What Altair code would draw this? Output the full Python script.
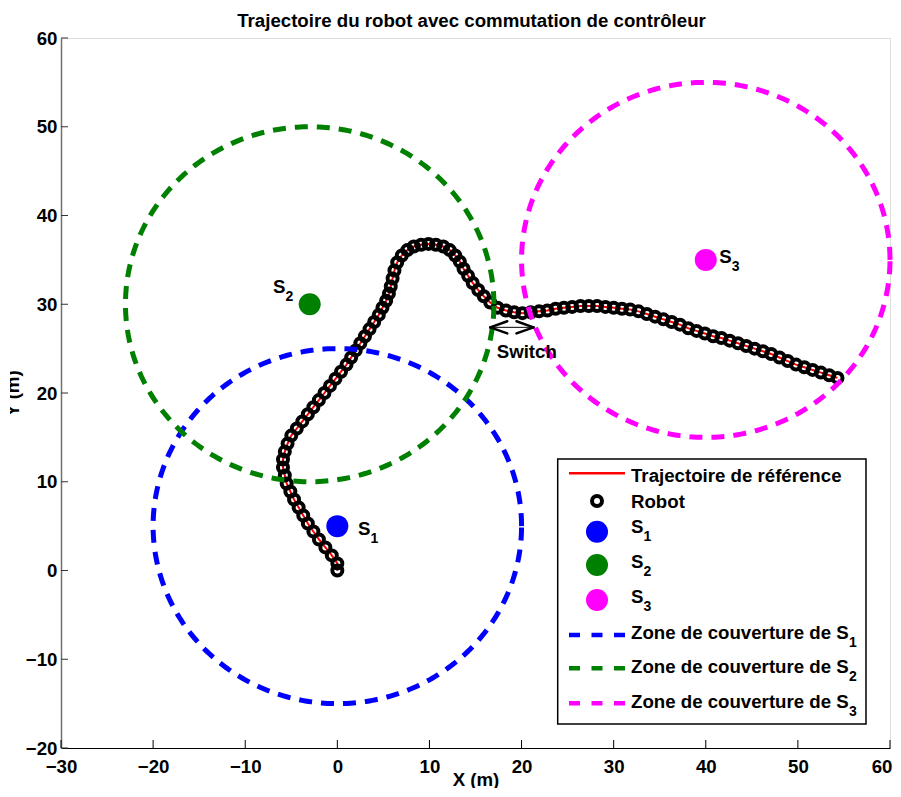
import altair as alt
import numpy as np
import pandas as pd

# ---------------- data ----------------
traj_x = [0.0, 0.0, -0.6, -1.3, -2.0, -2.6, -3.2, -3.7, -4.2, -4.7, -5.1, -5.5, -5.7, -5.9, -5.9, -5.7,
          -5.4, -5.0, -4.4, -3.8, -3.2, -2.6, -2.0, -1.4, -0.8, -0.2, 0.4, 1.0, 1.5, 2.0, 2.5, 3.0,
          3.5, 4.0, 4.5, 4.9, 5.3, 5.6, 5.8, 6.0, 6.2, 6.5, 7.0, 7.6, 8.3, 9.1, 9.9, 10.7, 11.5, 12.2,
          12.8, 13.3, 13.7, 14.2, 14.7, 15.3, 15.9, 16.6, 17.4, 18.3, 19.2, 20.1, 21.0, 21.9, 22.8,
          23.7, 24.6, 25.5, 26.4, 27.3, 28.2, 29.1, 30.0, 30.9, 31.8, 32.7, 33.6, 34.5, 35.4, 36.3,
          37.2, 38.1, 39.0, 39.9, 40.8, 41.7, 42.6, 43.5, 44.4, 45.3, 46.2, 47.1, 48.0, 48.9, 49.8,
          50.7, 51.6, 52.5, 53.4, 54.3]
traj_y = [0.0, 0.8, 1.7, 2.6, 3.5, 4.4, 5.3, 6.2, 7.1, 8.0, 8.9, 9.8, 10.7, 11.6, 12.5, 13.4,
          14.3, 15.2, 16.0, 16.8, 17.6, 18.4, 19.2, 20.0, 20.8, 21.6, 22.4, 23.2, 24.0, 24.8, 25.6, 26.4,
          27.2, 28.0, 28.8, 29.6, 30.4, 31.2, 32.0, 32.9, 33.8, 34.7, 35.5, 36.1, 36.5, 36.7, 36.8, 36.7,
          36.5, 36.1, 35.5, 34.8, 34.0, 33.2, 32.4, 31.6, 30.9, 30.2, 29.6, 29.3, 29.1, 29.0, 29.1,
          29.2, 29.3, 29.5, 29.6, 29.7, 29.8, 29.8, 29.8, 29.7, 29.6, 29.5, 29.4, 29.2, 28.9, 28.6,
          28.3, 28.0, 27.7, 27.3, 27.0, 26.7, 26.4, 26.2, 25.9, 25.6, 25.3, 25.0, 24.7, 24.4, 24.0,
          23.6, 23.2, 22.9, 22.6, 22.3, 22.0, 21.7]

sensor_names = ["S1", "S2", "S3"]
sensor_subs = ["1", "2", "3"]
sensor_x = [0.0, -3.0, 40.0]
sensor_y = [5.0, 30.0, 35.0]
sensor_colors = ["#0000FF", "#008000", "#FF00FF"]
coverage_radius = [20.0, 20.0, 20.0]

label_x = [2.25, -6.98, 41.45]
label_y = [4.0, 31.3, 34.65]

switch_label = "Switch"
switch_x = [17.3]
switch_y = [23.9]
arrow_x = [16.6, 21.3]
arrow_y = [27.4, 27.4]
arrow_head_x = [18.45, 19.45]
arrow_head_dy = [0.68, -0.68]

x_ticks = [-30, -20, -10, 0, 10, 20, 30, 40, 50, 60]
y_ticks = [-20, -10, 0, 10, 20, 30, 40, 50, 60]

title_text = "Trajectoire du robot avec commutation de contrôleur"
legend_texts = ["Trajectoire de référence", "Robot", "S", "S", "S",
                "Zone de couverture de S", "Zone de couverture de S", "Zone de couverture de S"]

# ---------------- tables ----------------
FONT = "Liberation Sans"
FS = 18.67
ROBOT_SIZE = 100
ROBOT_SW = 4
DOT_SIZE = 484

traj_df = pd.DataFrame({"x": traj_x, "y": traj_y, "i": range(len(traj_x))})
sens_df = pd.DataFrame({"x": sensor_x, "y": sensor_y, "name": sensor_names})
rows = []
theta = np.linspace(0, 2 * np.pi, 361)
for n, cx, cy, r in zip(sensor_names, sensor_x, sensor_y, coverage_radius):
    for k, t in enumerate(theta):
        rows.append({"x": cx + r * np.cos(t), "y": cy + r * np.sin(t), "name": n, "i": k})
zone_df = pd.DataFrame(rows)
lab_df = pd.DataFrame({"x": label_x, "y": label_y, "t": ["S"] * 3, "sub": sensor_subs})
sw_df = pd.DataFrame({"x": switch_x, "y": switch_y, "t": [switch_label]})
arrow_main = pd.DataFrame({"x": [arrow_x[0]], "x2": [arrow_x[1]], "y": [arrow_y[0]], "y2": [arrow_y[1]]})
head_rows = []
for tip, back in zip(arrow_x, arrow_head_x):
    for d in arrow_head_dy:
        head_rows.append({"x": tip, "y": arrow_y[0], "x2": back, "y2": arrow_y[0] + d})
arrow_heads = pd.DataFrame(head_rows)
xt_df = pd.DataFrame({"x": x_ticks})
yt_df = pd.DataFrame({"y": y_ticks})

color_scale = alt.Scale(domain=sensor_names, range=sensor_colors)
xs = alt.Scale(domain=[-30, 60], nice=False, zero=False)
ys = alt.Scale(domain=[-20, 60], nice=False, zero=False)

last_x = "datum.value == %d" % x_ticks[-1]
xaxis = alt.Axis(values=x_ticks, ticks=False, tickSize=0, labelPadding=9, labelFlush=False,
                 labelOverlap=False, labelFont=FONT, labelFontSize=FS, labelFontWeight="bold",
                 labelColor="black", domainColor="black", domainWidth=1.2, grid=False,
                 labelAlign={"condition": {"test": last_x, "value": "right"}, "value": "center"},
                 labelOffset={"condition": {"test": last_x, "value": 2}, "value": 0},
                 title="X (m)", titleFont=FONT, titleFontSize=FS, titleFontWeight="bold",
                 titleColor="black", titleBaseline="alphabetic", titleY=37)
yaxis = alt.Axis(values=y_ticks, ticks=False, tickSize=0, labelPadding=4, labelFlush=False,
                 labelOverlap=False, labelFont=FONT, labelFontSize=FS, labelFontWeight="bold",
                 labelColor="black", domainColor="#707070", domainWidth=1.5, grid=False,
                 title="Y (m)", titleFont=FONT, titleFontSize=FS, titleFontWeight="bold",
                 titleColor="black", titleAngle=270, titleBaseline="alphabetic", titleAlign="center",
                 titleX=-43, titleY=355)

X = alt.X("x:Q", scale=xs, axis=xaxis)
Y = alt.Y("y:Q", scale=ys, axis=yaxis)

ref_line = alt.Chart(traj_df).mark_line(color="#FF0000", strokeWidth=2).encode(X, Y, order=alt.Order("i:Q"))
robot = alt.Chart(traj_df).mark_point(shape="circle", filled=False, color="black", strokeWidth=ROBOT_SW,
                                      size=ROBOT_SIZE, opacity=1).encode(X, Y)
sensors = alt.Chart(sens_df).mark_circle(size=DOT_SIZE, opacity=1).encode(
    X, Y, color=alt.Color("name:N", scale=color_scale, legend=None))
zones = alt.Chart(zone_df).mark_line(strokeWidth=5, strokeDash=[13, 9], strokeCap="butt").encode(
    X, Y, color=alt.Color("name:N", scale=color_scale, legend=None), order=alt.Order("i:Q"))
labels = alt.Chart(lab_df).mark_text(align="left", baseline="alphabetic", font=FONT, fontSize=FS,
                                     fontWeight="bold", color="black").encode(X, Y, text="t:N")
subs = alt.Chart(lab_df).mark_text(align="left", baseline="alphabetic", font=FONT, fontSize=14,
                                   fontWeight="bold", color="black", dx=12.5, dy=8).encode(X, Y, text="sub:N")
sw_text = alt.Chart(sw_df).mark_text(align="left", baseline="alphabetic", font=FONT, fontSize=FS,
                                     fontWeight="bold", color="black").encode(X, Y, text="t:N")
arr_line = alt.Chart(arrow_main).mark_rule(color="black", strokeWidth=1).encode(
    X, Y, x2="x2:Q", y2="y2:Q")
arr_heads = alt.Chart(arrow_heads).mark_rule(color="black", strokeWidth=2.5, strokeCap="round").encode(
    X, Y, x2="x2:Q", y2="y2:Q")

xticks = alt.Chart(xt_df).mark_rule(color="black", strokeWidth=1).encode(
    X, y=alt.value(710), y2=alt.value(702))
yticks = alt.Chart(yt_df).mark_rule(color="#333333", strokeWidth=1).encode(
    Y, x=alt.value(0), x2=alt.value(7))

one = alt.Data(values=[{"a": 1}])


def vtext(txt, x, y, size=FS, align="left"):
    return alt.Chart(one).mark_text(text=txt, align=align, baseline="alphabetic", font=FONT,
                                    fontSize=size, fontWeight="bold", color="black").encode(
        x=alt.value(x), y=alt.value(y))


title_mark = vtext(title_text, 410.5, -11, FS, "center")
# the page edge crops the y-axis title as in the reference
crop = alt.Chart(one).mark_rect(fill="white").encode(
    x=alt.value(-60), x2=alt.value(-51), y=alt.value(300), y2=alt.value(420))

leg = [alt.Chart(one).mark_rect(fill="white", stroke="black", strokeWidth=1.5).encode(
    x=alt.value(496.7), x2=alt.value(805), y=alt.value(421), y2=alt.value(686))]
leg.append(alt.Chart(one).mark_rule(color="#FF0000", strokeWidth=2.5).encode(
    x=alt.value(508), x2=alt.value(564), y=alt.value(435.3)))
leg.append(vtext(legend_texts[0], 570, 443.7))
leg.append(alt.Chart(one).mark_point(shape="circle", filled=False, color="black", strokeWidth=ROBOT_SW,
                                     size=ROBOT_SIZE, opacity=1).encode(x=alt.value(536), y=alt.value(463)))
leg.append(vtext(legend_texts[1], 570, 469.7))
dot_y = [493.7, 527, 562]
s_base = [495.3, 530.3, 565.3]
for k in range(3):
    leg.append(alt.Chart(one).mark_circle(size=DOT_SIZE, opacity=1, color=sensor_colors[k]).encode(
        x=alt.value(536), y=alt.value(dot_y[k])))
    leg.append(vtext(legend_texts[2 + k], 570, s_base[k]))
    leg.append(vtext(sensor_subs[k], 582.5, s_base[k] + 8, 14))
zl_y = [597, 630.3, 665.3]
zt_base = [601.3, 635.3, 670.3]
for k in range(3):
    leg.append(alt.Chart(one).mark_rule(color=sensor_colors[k], strokeWidth=4.5, strokeDash=[11, 11.5],
                                        strokeCap="butt").encode(
        x=alt.value(508), x2=alt.value(564), y=alt.value(zl_y[k])))
    leg.append(vtext(legend_texts[5 + k], 570, zt_base[k]))
    leg.append(vtext(sensor_subs[k], 788, zt_base[k] + 8, 14))

chart = alt.layer(ref_line, robot, sensors, zones, labels, subs, sw_text, arr_line, arr_heads,
                  xticks, yticks, title_mark, crop, *leg).properties(
    width=829, height=710,
    autosize=alt.AutoSizeParams(type="none"),
    padding={"left": 53, "top": 30, "right": 3, "bottom": 40},
).configure_view(stroke=None).configure(font=FONT)

chart.save("out.html", embed_options={"renderer": "svg", "actions": False})
